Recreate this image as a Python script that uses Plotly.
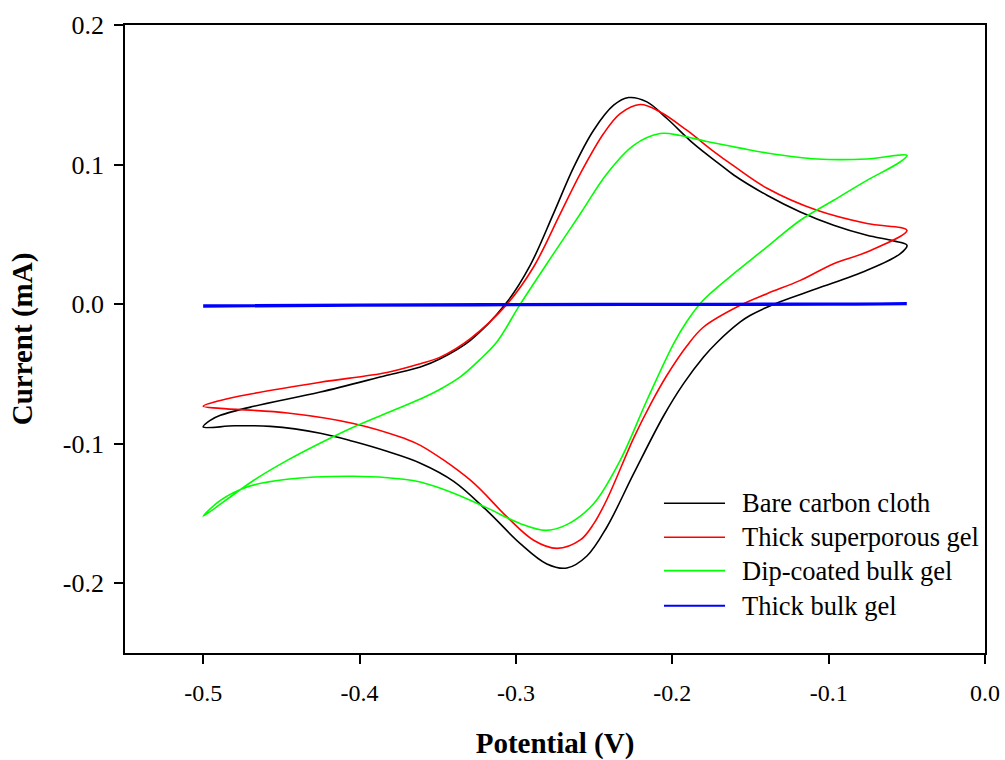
import plotly.graph_objects as go

# Cyclic voltammograms: potential (V) vs current (mA), forward and reverse sweeps
series_names = ["Bare carbon cloth", "Thick superporous gel", "Dip-coated bulk gel", "Thick bulk gel"]
series_colors = ["#000000", "#ff0000", "#00ff00", "#0000ff"]

# Bare carbon cloth
black_fwd_v = [-0.5000, -0.4955, -0.4890, -0.4676, -0.4251, -0.3825, -0.3611, -0.3484, -0.3291,
               -0.3067, -0.2908, -0.2759, -0.2631, -0.2503, -0.2375, -0.2279, -0.2162, -0.2034,
               -0.1864, -0.1700, -0.1607, -0.1394, -0.1181, -0.0968, -0.0755, -0.0584, -0.0499]
black_fwd_i = [-0.0880, -0.0833, -0.0797, -0.0732, -0.0630, -0.0510, -0.0450, -0.0391, -0.0259,
               0.0000, 0.0280, 0.0650, 0.0980, 0.1246, 0.1425, 0.1480, 0.1449, 0.1330,
               0.1150, 0.1005, 0.0925, 0.0780, 0.0660, 0.0565, 0.0493, 0.0453, 0.0422]
black_rev_v = [-0.0541, -0.0755, -0.1074, -0.1330, -0.1500, -0.1565, -0.1714, -0.1800, -0.1928,
               -0.2055, -0.2247, -0.2418, -0.2546, -0.2674, -0.2802, -0.2972, -0.3185, -0.3398,
               -0.3611, -0.3825, -0.4037, -0.4251, -0.4570, -0.4800, -0.5000]
black_rev_i = [0.0362, 0.0242, 0.0111, 0.0008, -0.0080, -0.0128, -0.0275, -0.0379, -0.0570,
               -0.0800, -0.1215, -0.1597, -0.1805, -0.1891, -0.1862, -0.1716, -0.1480, -0.1270,
               -0.1140, -0.1055, -0.0985, -0.0925, -0.0876, -0.0872, -0.0880]

# Thick superporous gel
red_fwd_v = [-0.5000, -0.4890, -0.4676, -0.4251, -0.3825, -0.3611, -0.3484, -0.3291, -0.3057,
             -0.2887, -0.2716, -0.2588, -0.2439, -0.2333, -0.2205, -0.2077, -0.1907, -0.1736,
             -0.1607, -0.1394, -0.1074, -0.0755, -0.0499]
red_fwd_i = [-0.0732, -0.0690, -0.0640, -0.0560, -0.0490, -0.0427, -0.0380, -0.0247, 0.0000,
             0.0266, 0.0648, 0.0935, 0.1222, 0.1365, 0.1430, 0.1377, 0.1246, 0.1095,
             0.0990, 0.0830, 0.0672, 0.0577, 0.0529]
red_rev_v = [-0.0755, -0.0968, -0.1181, -0.1394, -0.1565, -0.1800, -0.1907, -0.2034, -0.2140,
             -0.2247, -0.2418, -0.2503, -0.2588, -0.2738, -0.2887, -0.3057, -0.3291, -0.3611,
             -0.3720, -0.4040, -0.4460, -0.4890, -0.5000]
red_rev_i = [0.0374, 0.0290, 0.0170, 0.0075, -0.0008, -0.0164, -0.0300, -0.0510, -0.0720,
             -0.0960, -0.1400, -0.1575, -0.1690, -0.1750, -0.1692, -0.1525, -0.1262, -0.1012,
             -0.0960, -0.0855, -0.0780, -0.0747, -0.0732]

# Dip-coated bulk gel
green_fwd_v = [-0.5000, -0.4676, -0.4463, -0.4250, -0.4037, -0.3825, -0.3611, -0.3484, -0.3356,
               -0.3228, -0.3121, -0.2972, -0.2759, -0.2588, -0.2418, -0.2247, -0.2077, -0.1949,
               -0.1779, -0.1565, -0.1394, -0.1074, -0.0755, -0.0499]
green_fwd_i = [-0.1520, -0.1262, -0.1120, -0.0995, -0.0880, -0.0780, -0.0680, -0.0610, -0.0522,
               -0.0395, -0.0270, 0.0000, 0.0362, 0.0648, 0.0935, 0.1138, 0.1222, 0.1208,
               0.1165, 0.1118, 0.1083, 0.1040, 0.1040, 0.1066]
green_rev_v = [-0.0541, -0.0755, -0.0968, -0.1181, -0.1394, -0.1607, -0.1714, -0.1821, -0.1907,
               -0.1992, -0.2162, -0.2333, -0.2503, -0.2674, -0.2812, -0.2972, -0.3185, -0.3398,
               -0.3611, -0.3717, -0.4037, -0.4463, -0.4719, -0.4890, -0.5000]
green_rev_i = [0.1020, 0.0887, 0.0744, 0.0601, 0.0410, 0.0218, 0.0118, 0.0005, -0.0125,
               -0.0285, -0.0689, -0.1119, -0.1430, -0.1580, -0.1621, -0.1573, -0.1460, -0.1355,
               -0.1275, -0.1255, -0.1234, -0.1255, -0.1310, -0.1406, -0.1520]

# Thick bulk gel (essentially no faradaic response)
blue_fwd_v = [-0.5000, -0.4000, -0.3000, -0.2000, -0.1000, -0.0500]
blue_fwd_i = [-0.0012, -0.0006, -0.0003, -0.0001, 0.0001, 0.0002]
blue_rev_v = [-0.1000, -0.2000, -0.3000, -0.4000, -0.5000]
blue_rev_i = [-0.0001, -0.0003, -0.0005, -0.0008, -0.0016]

x_tick_vals = [-0.5, -0.4, -0.3, -0.2, -0.1, 0.0]
x_tick_text = ["-0.5", "-0.4", "-0.3", "-0.2", "-0.1", "0.0"]
y_tick_vals = [-0.2, -0.1, 0.0, 0.1, 0.2]
y_tick_text = ["-0.2", "-0.1", "0.0", "0.1", "0.2"]

curves = [
    (black_fwd_v + black_rev_v, black_fwd_i + black_rev_i, 1.6),
    (red_fwd_v + red_rev_v, red_fwd_i + red_rev_i, 1.6),
    (green_fwd_v + green_rev_v, green_fwd_i + green_rev_i, 1.6),
    (blue_fwd_v + blue_rev_v, blue_fwd_i + blue_rev_i, 3.0),
]

FONT = "Liberation Serif, Times New Roman, serif"

fig = go.Figure()
for (v, i, w), name, color in zip(curves, series_names, series_colors):
    fig.add_trace(go.Scatter(
        x=v, y=i, mode="lines", name=name, showlegend=False,
        line=dict(color=color, width=w, shape="spline", smoothing=1.0),
    ))

# Legend drawn as key lines plus labels in the lower right of the plot area
leg_x0, leg_x1, leg_text_x = 0.6267, 0.6977, 0.7151
leg_rows = [0.2384, 0.1842, 0.1311, 0.0753]
for name, color, yy, (_, _, w) in zip(series_names, series_colors, leg_rows, curves):
    fig.add_shape(type="line", xref="paper", yref="paper", x0=leg_x0, x1=leg_x1, y0=yy, y1=yy,
                  line=dict(color=color, width=min(w, 2.0)))
    fig.add_annotation(xref="paper", yref="paper", x=leg_text_x, y=yy, text=name,
                       showarrow=False, xanchor="left", yanchor="middle",
                       font=dict(family=FONT, size=26.5, color="black"))

axis_common = dict(
    showline=True, linecolor="black", linewidth=1.6, mirror=True,
    ticks="outside", ticklen=9, tickwidth=1.5, tickcolor="black",
    showgrid=False, zeroline=False, automargin=False,
)

fig.update_layout(
    width=1005, height=760,
    margin=dict(l=125, r=20, t=25, b=107),
    paper_bgcolor="white", plot_bgcolor="white",
    xaxis=dict(range=[-0.55, 0.0], tickvals=x_tick_vals, ticktext=x_tick_text,
               ticklabelstandoff=8,
               tickfont=dict(family=FONT, size=24, color="black"),
               title=dict(text="<b>Potential (V)</b>", standoff=28,
                          font=dict(family=FONT, size=29, color="black")),
               **axis_common),
    yaxis=dict(range=[-0.25, 0.2], tickvals=y_tick_vals, ticktext=y_tick_text,
               ticklabelstandoff=5,
               tickfont=dict(family=FONT, size=26, color="black"),
               title=dict(text="<b>Current (mA)</b>", standoff=22,
                          font=dict(family=FONT, size=29, color="black")),
               **axis_common),
)

fig.write_html("out.html")
